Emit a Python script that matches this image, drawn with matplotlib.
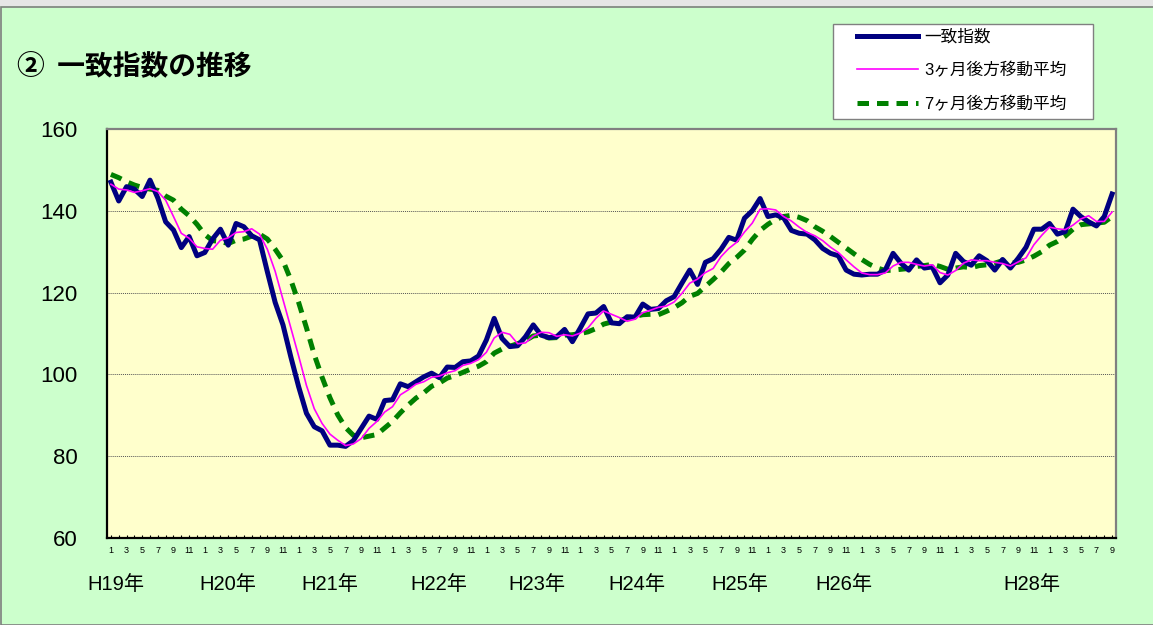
import matplotlib
matplotlib.use("Agg")
import matplotlib.pyplot as plt
from matplotlib.patches import Rectangle
import matplotlib.transforms as mtransforms
import numpy as np

plt.rcParams['font.family'] = ['Liberation Sans', 'Noto Sans CJK JP', 'DejaVu Sans']

# ---- data (H19年1月 .. H29年9月, monthly) ----
month_labels = ([str(m) if m % 2 == 1 else "" for m in range(1, 13)] * 10
                + [str(m) if m % 2 == 1 else "" for m in range(1, 10)])

coincident = [147.0, 142.4, 145.9, 145.3, 143.5, 147.5, 143.1, 137.3, 135.3, 131.0, 133.7, 129.0,
              129.8, 133.1, 135.5, 131.6, 136.9, 136.1, 133.9, 132.9, 125.1, 117.6, 112.1, 104.3,
              97.0, 90.5, 87.2, 86.2, 82.7, 82.7, 82.4, 83.8, 86.8, 89.8, 89.0, 93.6,
              93.8, 97.7, 97.0, 98.2, 99.4, 100.3, 99.2, 101.8, 101.7, 103.1, 103.3, 104.5,
              108.4, 113.7, 108.8, 106.8, 107.0, 109.2, 112.1, 109.6, 109.0, 109.2, 111.0, 108.0,
              111.3, 114.8, 115.0, 116.6, 112.6, 112.4, 114.1, 114.0, 117.2, 115.9, 116.1, 118.0,
              119.0, 122.3, 125.5, 122.0, 127.4, 128.3, 130.6, 133.5, 132.8, 138.2, 140.0, 143.0,
              138.6, 139.0, 138.3, 135.2, 134.5, 134.3, 132.9, 130.8, 129.6, 129.0, 125.5, 124.5,
              124.3, 124.5, 124.5, 125.5, 129.6, 127.2, 125.5, 128.0, 126.0, 126.3, 122.4, 124.3,
              129.6, 127.6, 126.7, 129.0, 127.8, 125.5, 128.1, 126.0, 128.4, 131.1, 135.5, 135.5,
              136.9, 134.3, 134.9, 140.4, 138.6, 137.3, 136.3, 138.6, 144.1]

ma3 = [146.5, 145.3, 145.1, 144.5, 144.9, 145.4, 144.7, 142.6, 138.6, 134.5, 133.3, 131.2,
       130.8, 130.6, 132.8, 133.4, 134.7, 134.9, 135.6, 134.3, 130.6, 125.2, 118.3, 111.3,
       104.5, 97.3, 91.6, 88.0, 85.4, 83.9, 82.6, 83.0, 84.3, 86.8, 88.5, 90.8,
       92.1, 95.0, 96.2, 97.6, 98.2, 99.3, 99.6, 100.4, 100.9, 102.2, 102.7, 103.6,
       105.4, 108.9, 110.3, 109.8, 107.5, 107.7, 109.4, 110.3, 110.2, 109.3, 109.7, 109.4,
       110.1, 111.4, 113.7, 115.5, 114.7, 113.9, 113.0, 113.5, 115.1, 115.7, 116.4, 116.7,
       117.7, 119.8, 122.3, 123.3, 124.9, 125.9, 128.8, 130.8, 132.3, 134.8, 137.0, 140.4,
       140.5, 140.2, 138.6, 137.5, 136.0, 134.7, 133.9, 132.7, 131.1, 129.8, 128.0, 126.3,
       124.8, 124.4, 124.4, 124.8, 126.5, 127.4, 127.4, 126.9, 126.5, 126.8, 124.9, 124.3,
       125.4, 127.2, 128.0, 127.8, 127.8, 127.4, 127.1, 126.5, 127.5, 128.5, 131.7, 134.0,
       136.0, 135.6, 135.4, 136.5, 138.0, 138.8, 137.4, 137.4, 139.7]

ma7 = [148.9, 148.1, 147.1, 146.3, 145.7, 145.3, 145.0, 143.6, 142.6, 140.4, 138.8, 136.7,
       134.2, 132.7, 132.5, 132.0, 132.8, 133.1, 133.8, 134.3, 133.1, 130.6, 127.8, 123.1,
       117.6, 111.4, 104.8, 99.3, 94.3, 90.1, 87.0, 85.1, 84.5, 84.9, 85.3, 86.9,
       88.5, 90.6, 92.5, 94.2, 95.5, 97.1, 97.9, 99.1, 99.7, 100.5, 101.3, 102.0,
       103.1, 105.2, 106.2, 106.9, 107.5, 108.3, 109.4, 109.6, 108.9, 109.0, 109.6, 109.7,
       110.0, 110.4, 111.2, 112.3, 112.8, 113.0, 113.8, 114.2, 114.6, 114.7, 114.6, 115.4,
       116.3, 117.5, 119.1, 119.8, 121.5, 123.2, 125.0, 127.1, 128.6, 130.4, 133.0, 135.2,
       136.7, 137.9, 138.6, 138.9, 138.4, 137.6, 136.1, 135.0, 133.7, 132.3, 130.9, 129.5,
       128.1, 126.9, 126.0, 125.4, 125.5, 125.7, 125.9, 126.4, 126.6, 126.9, 126.4, 125.7,
       126.0, 126.3, 126.1, 126.6, 126.8, 127.2, 127.8, 127.2, 127.4, 128.0, 128.9, 130.0,
       131.6, 132.5, 133.8, 135.5, 136.6, 136.8, 137.0, 137.2, 138.6]

year_labels = ["H19年", "H20年", "H21年", "H22年", "H23年", "H24年", "H25年", "H26年", "H28年"]
year_label_pos = [0.65, 14.97, 28.0, 41.95, 54.5, 67.3, 80.4, 93.7, 117.7]

series_names = ["一致指数", "3ヶ月後方移動平均", "7ヶ月後方移動平均"]
y_ticks = [60, 80, 100, 120, 140, 160]

# ---- figure ----
W, H = 1153, 625
fig = plt.figure(figsize=(W / 100, H / 100), dpi=100, facecolor="#CCFFCC")

# top gray strip and outer border
fig.patches.append(Rectangle((0, 1 - 6 / H), 1, 6 / H, transform=fig.transFigure,
                             facecolor="#E6E6E6", edgecolor="none", zorder=0))
fig.patches.append(Rectangle((1 / W, 0), 1.2, 1 - 7 / H, transform=fig.transFigure,
                             facecolor="none", edgecolor="#7F7F7F", lw=1.2, zorder=1))

ax = fig.add_axes([107 / W, 1 - 538 / H, (1116 - 107) / W, (538 - 129) / H])
ax.set_facecolor("#FFFFCC")

x = np.arange(len(coincident))
ax.plot(x, coincident, color="#000080", lw=3.6, solid_joinstyle="round", zorder=3,
        label=series_names[0])
ax.plot(x, ma3, color="#FF00FF", lw=1.2, zorder=4, label=series_names[1])
ax.plot(x, ma7, color="#008000", lw=3.6, ls=(0, (2.3, 1.6)), dash_capstyle="butt",
        zorder=2, label=series_names[2])

ax.set_xlim(-0.5, len(coincident) - 0.5)
ax.set_ylim(60, 160)
ax.set_yticks(y_ticks)
ax.set_yticklabels([str(v) for v in y_ticks], fontsize=16)
ax.tick_params(axis="y", length=0, pad=21)
for v in y_ticks[1:-1]:
    ax.axhline(v, color="#555555", lw=0.7, ls=(0, (1, 1)), zorder=1)

ax.set_xticks(x)
ax.set_xticklabels(month_labels, fontsize=6.5)
ax.tick_params(axis="x", direction="in", length=2.5, width=0.8, pad=6)

for s in ["left", "bottom"]:
    ax.spines[s].set_color("black")
    ax.spines[s].set_linewidth(1.6)
for s in ["top", "right"]:
    ax.spines[s].set_color("#808080")
    ax.spines[s].set_linewidth(1.6)

trans = mtransforms.blended_transform_factory(ax.transData, fig.transFigure)
for lab, pos in zip(year_labels, year_label_pos):
    ax.text(pos, 1 - 585 / H, lab, transform=trans, ha="center", va="center",
            fontsize=14.5, family=["Liberation Sans", "Noto Sans CJK JP"], clip_on=False)

fig.text(17 / W, 1 - 66 / H, "②  一致指数の推移", fontsize=20, fontweight="bold",
         family=["Noto Sans CJK JP", "DejaVu Sans"], ha="left", va="center")

# legend frame drawn separately, legend content without frame
fig.patches.append(Rectangle((833 / W, 1 - 119 / H), (1093 - 833) / W, (119 - 24) / H,
                             transform=fig.transFigure, facecolor="white",
                             edgecolor="#808080", lw=1.0, zorder=5))
leg = fig.legend(loc="upper left", bbox_to_anchor=(857 / W, 1 - 29 / H),
                 bbox_transform=fig.transFigure, frameon=False,
                 prop={"family": ["Liberation Sans", "Noto Sans CJK JP"], "size": 12},
                 handlelength=3.65, handletextpad=0.4, labelspacing=1.05,
                 borderpad=0, borderaxespad=0)
leg.set_zorder(6)

fig.savefig("out.png", dpi=100, facecolor=fig.get_facecolor())
